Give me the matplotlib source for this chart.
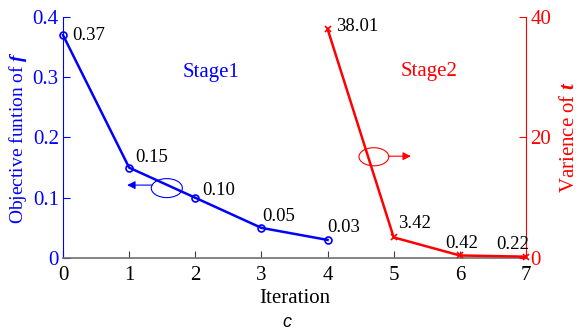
import matplotlib
matplotlib.use('Agg')
import matplotlib.pyplot as plt
from matplotlib.patches import Ellipse
from matplotlib.ticker import FuncFormatter

#=========================#
#  data                   #
#=========================#
iter_f = [0, 1, 2, 3, 4]
obj_f = [0.37, 0.15, 0.10, 0.05, 0.03]
iter_t = [4, 5, 6, 7]
var_t = [38.01, 3.42, 0.42, 0.22]
xticks = [0, 1, 2, 3, 4, 5, 6, 7]

# label offsets (pixels) for each value annotation
off_f = [(9, 0), (6, 10), (7, 7), (1, 11), (0, 12)]
off_t = [(8, 2), (4, 14), (2, 12), (-13, 12)]

BLUE = '#0000ff'
RED = '#ff0000'

plt.rcParams['font.family'] = ['Liberation Serif', 'DejaVu Serif']
plt.rcParams['mathtext.fontset'] = 'custom'
plt.rcParams['mathtext.it'] = 'Liberation Serif:italic:bold'

#=========================#
#  figure                 #
#=========================#
fig = plt.figure(figsize=(5.8, 3.32), dpi=100)
ax = fig.add_axes([0.1086, 0.2229, 0.7983, 0.7259])
ax2 = ax.twinx()

# stage 1: objective function
ax.plot(iter_f, obj_f, color=BLUE, lw=1.8, marker='o', ms=5,
        mfc='none', mec=BLUE, mew=1.2, clip_on=False, zorder=3)
for x, y, (dx, dy) in zip(iter_f, obj_f, off_f):
    ax.annotate('{:.2f}'.format(y), (x, y), xytext=(dx * 0.72, dy * 0.72),
                textcoords='offset points', ha='left', va='center',
                fontsize=13.5, color='black')

# stage 2: variance
ax2.plot(iter_t, var_t, color=RED, lw=1.8, marker='x', ms=4,
         mew=1.2, clip_on=False, zorder=3)
for i, (x, y, (dx, dy)) in enumerate(zip(iter_t, var_t, off_t)):
    ha = 'center' if i >= 2 else 'left'
    ax2.annotate('{:.2f}'.format(y), (x, y), xytext=(dx * 0.72, dy * 0.72),
                 textcoords='offset points', ha=ha, va='center',
                 fontsize=13.5, color='black')

#=========================#
#  axes                   #
#=========================#
ax.set_xlim(0, 7)
ax.set_ylim(0, 0.4)
ax2.set_ylim(0, 40)
ax.set_xticks(xticks)
ax.set_yticks([0, 0.1, 0.2, 0.3, 0.4])
ax.yaxis.set_major_formatter(FuncFormatter(lambda v, p: '0' if v == 0 else '{:.1f}'.format(v)))
ax2.set_yticks([0, 20, 40])

for s in ['top', 'right']:
    ax.spines[s].set_visible(False)
for s in ['top', 'left', 'bottom']:
    ax2.spines[s].set_visible(False)
ax.spines['bottom'].set_color('#707070')
ax.spines['bottom'].set_linewidth(1.2)
ax.spines['left'].set_color(BLUE)
ax.spines['left'].set_linewidth(0.8)
ax2.spines['right'].set_color(RED)
ax2.spines['right'].set_linewidth(0.8)

ax.tick_params(axis='x', direction='in', length=5, width=0.8, color='#404040',
               labelsize=15, pad=6)
ax.tick_params(axis='y', direction='in', length=5, width=0.8, color=BLUE,
               labelcolor=BLUE, labelsize=15, pad=3)
ax2.tick_params(axis='y', direction='in', length=5, width=0.8, color=RED,
                labelcolor=RED, labelsize=15, pad=3)

ax.set_xlabel('Iteration', fontsize=15, labelpad=3)
ax.set_ylabel('Objective funtion of $f$', fontsize=14, color=BLUE, va='center')
ax.yaxis.set_label_coords(-0.097, 0.5)
ax2.set_ylabel('Varience of $t$', fontsize=15, color=RED, va='center')
ax2.yaxis.set_label_coords(1.094, 0.5)

ax.text(2.24, 0.308, 'Stage1', color=BLUE, fontsize=15, ha='center', va='center')
ax2.text(5.53, 30.9, 'Stage2', color=RED, fontsize=15, ha='center', va='center')

# ellipse + arrow markers pointing to each axis
ax.add_patch(Ellipse((1.57, 0.116), 0.47, 0.0315, fill=False, ec=BLUE, lw=0.8))
ax.annotate('', xy=(0.97, 0.121), xytext=(1.35, 0.121),
            arrowprops=dict(arrowstyle='-|>', color=BLUE, lw=0.8,
                            mutation_scale=12, shrinkA=0, shrinkB=0))
ax2.add_patch(Ellipse((4.70, 16.8), 0.45, 3.0, fill=False, ec=RED, lw=0.8))
ax2.annotate('', xy=(5.26, 16.9), xytext=(4.93, 16.9),
             arrowprops=dict(arrowstyle='-|>', color=RED, lw=0.8,
                             mutation_scale=12, shrinkA=0, shrinkB=0))

fig.text(0.495, 0.03, 'c', fontsize=13, style='italic',
         family='Liberation Sans', ha='center', va='center')

fig.savefig('out.png', dpi=100)
